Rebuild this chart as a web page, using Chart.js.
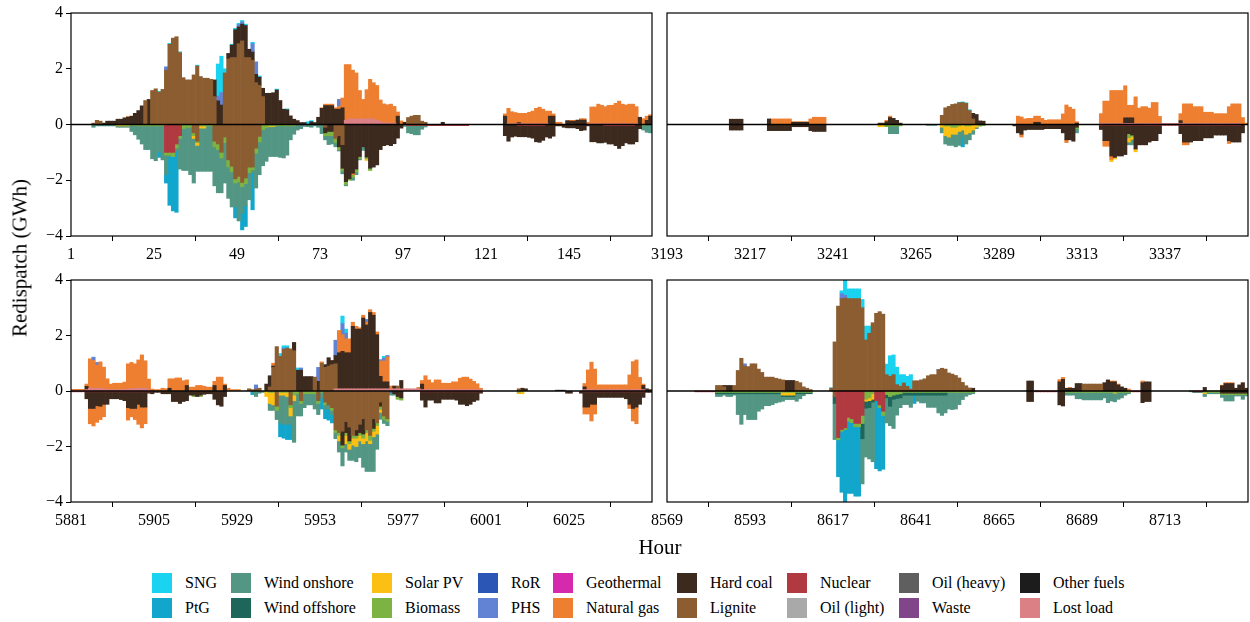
<!DOCTYPE html>
<html>
<head>
<meta charset="utf-8">
<script src="https://cdn.jsdelivr.net/npm/chart.js@4/dist/chart.umd.min.js"></script>
<style>
  body { margin: 0; background: #fff; width: 1250px; height: 622px; overflow: hidden; position: relative;
         font-family: "Liberation Serif", "Times New Roman", serif; color: #000; }
  .panel { position: absolute; }
  .lab { position: absolute; font-size: 21px; white-space: nowrap; }
  .sw { position: absolute; width: 20px; height: 20px; }
  .lt { position: absolute; font-size: 16px; line-height: 20px; white-space: nowrap; }
</style>
</head>
<body>
<div class="panel" style="left:0;top:0"><canvas id="c1" width="660" height="270"></canvas></div>
<div class="panel" style="left:640px;top:0"><canvas id="c2" width="610" height="270"></canvas></div>
<div class="panel" style="left:0;top:267px"><canvas id="c3" width="660" height="270"></canvas></div>
<div class="panel" style="left:640px;top:267px"><canvas id="c4" width="610" height="270"></canvas></div>
<div class="lab" style="left:20px;top:258px;transform:translate(-50%,-50%) rotate(-90deg)">Redispatch (GWh)</div>
<div class="lab" style="left:660px;top:547px;transform:translate(-50%,-50%)">Hour</div>
<div id="legend"></div>
<script>
// ─── SERIES (stacked from the zero line outwards) ───
const SERIES = ['Lost load', 'Other fuels', 'Waste', 'Oil (heavy)', 'Oil (light)', 'Nuclear', 'Lignite',
  'Hard coal', 'Natural gas', 'Geothermal', 'PHS', 'RoR', 'Biomass', 'Solar PV', 'Wind offshore',
  'Wind onshore', 'PtG', 'SNG'];
const LEGEND_COLUMNS = [['SNG', 'PtG'], ['Wind onshore', 'Wind offshore'], ['Solar PV', 'Biomass'],
  ['RoR', 'PHS'], ['Geothermal', 'Natural gas'], ['Hard coal', 'Lignite'], ['Nuclear', 'Oil (light)'],
  ['Oil (heavy)', 'Waste'], ['Other fuels', 'Lost load']];
const COLORS = {
  'SNG': '#19d3f0', 'PtG': '#12a6cc', 'Wind onshore': '#529683', 'Wind offshore': '#1f665a',
  'Solar PV': '#fbc013', 'Biomass': '#7db343', 'RoR': '#2c56b5', 'PHS': '#6283d4',
  'Geothermal': '#d62aae', 'Natural gas': '#ee7f31', 'Hard coal': '#3c2a1e', 'Lignite': '#8b5d31',
  'Nuclear': '#b03a40', 'Oil (light)': '#a9a9a9', 'Oil (heavy)': '#5f5f5f', 'Waste': '#81458a',
  'Other fuels': '#1c1c1c', 'Lost load': '#db8085'
};
const PANEL_START = [1, 3193, 5881, 8569];
const HOURS = 168;
const TICK_STEPS = [0, 24, 48, 72, 96, 120, 144];

// ─── DATA: [firstHourIndex, [values...]] or [firstHourIndex, count, value] (GWh) ───
// Panel 1 (hours 1-168)
const p1LostUp = [[79, [0.15, 0.2, 0.2, 0.2, 0.2, 0.2, 0.2, 0.2, 0.2, 0.15, 0.1, 0.08, 0.05, 0.05, 0.05]], [126, 12, 0.03], [150, 14, 0.03]];
const p1NucDn = [[27, [-1.0, -1.0, -1.0, -0.7, -0.4]], [97, 18, -0.04], [129, 8, -0.04], [154, 9, -0.04]];
const p1LigUp = [[6, [0.05, 0.15, 0.12]], [21, [0.86]],
  [23, [1.22, 1.28, 1.16, 1.26, 1.95, 2.88, 3.1, 3.15, 2.58, 1.68, 1.6, 1.6, 1.78, 2.1, 1.72, 1.66, 1.66, 1.62, 1.0]],
  [44, [1.85, 2.35, 2.4, 2.4, 2.9, 3.0, 2.4, 2.4, 2.3, 1.5, 1.4, 1.0]], [97, [0.25, 0.3, 0.33, 0.33, 0.12, 0.08]]];
const p1LigDn = [[35, [-0.3, -0.6]],
  [41, [-0.6, -0.7, -1.0, -0.45, -1.27, -1.5, -1.95, -1.86, -2.08, -1.92, -1.53, -1.53, -0.85, -0.43]],
  [73, [-0.1, 0, 0, -0.5, -0.4, -0.72]]];
const p1CoalUp = [[9, [0.05, 0.12, 0.12, 0.12, 0.19, 0.19, 0.24, 0.26, 0.3, 0.4, 0.5, 0.67]], [22, [0.9]],
  [41, [0.6, 0.85, 0.7]],
  [45, [0.2, 0.45, 1.0, 0.6, 0.6, 1.15, 0.3, 0.3, 0.3, 0.3, 0.3, 1.12, 1.12, 1.14, 1.24, 0.86, 0.55, 0.53, 0.31, 0.19, 0.14, 0.07, 0.07]],
  [69, [0.1, 0.07, 0.26, 0.58, 0.68, 0.68, 0.68, 0.55, 0.55, 0.6]], [94, [0.3, 0, 0.08]], [107, [0.08]],
  [125, [0.3, 0, 0, 0, 0.04]], [138, [0.3, 0.3]], [143, [0.14, 0.12, 0.12, 0.16, 0.16, 0.16]], [164, [0.26, 0, 0.15, 0.3]]];
const p1CoalDn = [[73, [-0.2, -0.25, -0.25, 0, -0.4, -0.85, -2.05, -1.95, -1.75, -1.6, -1.15, -0.8, -1.17, -1.57, -1.53, -1.45, -0.9, -0.76, -0.73, -0.76, -0.69, -0.49, -0.13]],
  [125, [-0.4, -0.6, -0.45, -0.42, -0.4, -0.4, -0.4, -0.42, -0.45, -0.58, -0.6, -0.53, -0.45, -0.49, -0.42,
    -0.05, -0.05, -0.1, -0.12, -0.12, -0.12, -0.15, -0.22, -0.2, -0.05,
    -0.62, -0.62, -0.66, -0.66, -0.6, -0.66, -0.66, -0.72, -0.82, -0.72, -0.62, -0.66, -0.66, -0.62, -0.15]]];
const p1GasUp = [[16, [0.03]],
  [72, [0.02, 0.05, 0.05, 0.05, 0.05, 0.1, 0.35, 2.0, 1.95, 1.75, 1.65, 1.02, 0.7, 1.05, 1.42, 1.3, 1.25, 0.78, 0.66, 0.66, 0.68, 0.6, 0.15, 0.13]],
  [125, [0.08, 0.55, 0.43, 0.4, 0.33, 0.37, 0.37, 0.41, 0.45, 0.55, 0.59, 0.52, 0.45, 0.18, 0.08, 0.08, 0.08]],
  [144, [0.03, 0.03, 0, 0.05, 0.05, 0.08, 0.6, 0.6, 0.7, 0.66, 0.61, 0.66, 0.66, 0.73, 0.81, 0.7, 0.67, 0.7, 0.7, 0.61, 0, 0.21, 0.15, 0.05]]];
const p1GasDn = [[81, [-0.05]]];
const p1PhsUp = [[27, [0.12]], [42, [0.17, 0.45]], [48, [0.08, 0.08]], [52, [0.3, 0.45]], [77, [0.25]]];
const p1BioDn = [[13, 4, -0.02], [17, [-0.03, -0.04]], [19, 8, -0.05],
  [27, [-0.1, -0.1, -0.15, -0.15, -0.1, -0.15, -0.1, -0.1, -0.1]], [36, 5, -0.05],
  [41, [-0.2, -0.2, -0.2, -0.2, -0.25, -0.2, -0.15, -0.2, -0.15, -0.2, -0.2, -0.1, -0.18, -0.2, -0.18, -0.12]],
  [57, 8, -0.05], [73, [-0.1, -0.15, -0.15, -0.15, -0.1, -0.1, -0.1, -0.05, -0.1, -0.1, -0.07, 0, -0.06, -0.08]], [165, [-0.05]]];
const p1SolDn = [[13, 4, -0.03], [35, [-0.1, -0.1, -0.08, -0.08]], [57, [-0.03, -0.03]], [85, [-0.06]]];
const p1WonDn = [[6, [-0.1]], [7, 10, -0.05],
  [17, [-0.22, -0.33, -0.48, -0.65, -0.85, -0.85, -1.18, -1.25, -0.93, -1.22,
    -0.7, -0.05, 0, -0.1, -1.1, -1.5, -1.55, -1.7, -1.6, -0.93,
    -1.55, -1.55, -1.63, -1.63, -1.4, -1.55, -1.25, -1.45, -1.13, -1.26,
    -0.85, -1.4, -0.95, -0.8, -0.97, -0.1, -1.25, -1.17, -1.3, -1.2,
    -1.07, -1.07, -1.1, -1.13, -1.15, -1.05, -0.5, -0.3, -0.2, -0.15,
    -0.07, -0.08, -0.1, -0.05, -0.1, -0.33, -0.15, -0.32, -0.3, -0.15,
    -0.05, -0.1, -0.05, 0, -0.1, -0.1, -0.05, -0.13]],
  [96, [-0.07, -0.26, -0.29, -0.33, -0.33, -0.13, -0.05]], [165, [-0.15, -0.28, -0.3]]];
const p1PtgDn = [[25, [-0.2, 0, -0.3, -1.75, -1.95, -2.2]], [47, [-0.4, 0, -0.6, -0.74, 0, -1.33]]];
const p1SngUp = [[25, [0.03, 0, 0, 0.03, 0, 0, 0.03, 0, 0, 0, 0, 0.03]],
  [42, [1.15, 1.3, 0.15, 0, 0.03, 0.05, 0.05, 0.05, 0.05, 0, 0.05, 0, 0.04]], [59, [0.03, 0, 0, 0.03]], [68, [0.1, 0.04]]];

// Panel 2 (hours 3193-3360)
const p2LostUp = [[125, 41, 0.04]];
const p2NucDn = [[125, 41, -0.03]];
const p2LigUp = [[79, [0.33, 0.6, 0.65, 0.72, 0.74, 0.78, 0.79, 0.76, 0.5, 0.2]]];
const p2CoalUp = [[18, 4, 0.19], [29, [0.2]], [36, 5, 0.08], [61, [0.05, 0.05, 0.1, 0.25, 0.22, 0.15, 0.05]],
  [88, [0.2, 0.36, 0.13, 0.12]], [106, [0.08, 0.08]], [118, [0.05]], [132, 3, 0.2], [148, [0.1]]];
const p2CoalDn = [[18, 4, -0.2], [29, 7, -0.22], [36, 5, -0.08], [41, [-0.22, -0.25, -0.25, -0.25, -0.25]],
  [100, [-0.05, -0.3, -0.35, -0.2]], [104, 5, -0.18], [109, 5, -0.15], [114, [-0.3, -0.55, -0.55, -0.6, -0.1]],
  [125, [-0.15, -0.55, -0.55, -1.1, -1.15, -1.1, -1.1, -1.05, -0.3, -0.35, -0.85, -0.7, -0.7, -0.7, -0.6, -0.55, -0.55, -0.3]],
  [148, [-0.3, -0.6, -0.6, -0.6, -0.55, -0.55, -0.55, -0.45, -0.45, -0.45, -0.35, -0.35, -0.35, -0.35, -0.55, -0.6, -0.6, -0.6, -0.3]]];
const p2GasUp = [[30, 6, 0.2], [36, 5, 0.02], [41, [0.2, 0.26, 0.26, 0.26, 0.26]], [63, [0.05, 0.05]],
  [101, [0.3, 0.27, 0.2, 0.22, 0.22, 0.22, 0.22, 0.22, 0.15, 0.17, 0.17, 0.17, 0.17, 0.38, 0.7, 0.62, 0.55, 0.05]],
  [125, [0.35, 0.8, 0.8, 1.18, 1.18, 1.18, 1.18, 1.15, 0.45, 0.45, 0.95, 0.55, 0.6, 0.6, 0.55, 0.75, 0.75, 0.25]],
  [148, [0.25, 0.7, 0.7, 0.7, 0.6, 0.6, 0.6, 0.4, 0.4, 0.4, 0.35, 0.35, 0.35, 0.35, 0.6, 0.7, 0.7, 0.7, 0.25, 0.05]]];
const p2GasDn = [[102, [-0.1]], [115, [-0.1]], [126, [-0.2, -0.2, -0.12]], [149, [-0.1, -0.1]], [162, [-0.1]]];
const p2SolDn = [[61, [-0.08, -0.08]], [79, [-0.1, -0.35, -0.4, -0.25, -0.25, -0.2, -0.2, -0.3, -0.25, -0.2, -0.1]],
  [128, [-0.08, -0.06]], [133, [-0.15, -0.1, -0.1]]];
const p2BioDn = [[63, [-0.08, -0.05, -0.05, -0.05, -0.05]], [80, [-0.05, -0.05, -0.1, -0.1, -0.05, 0, -0.05, -0.05, 0, 0, -0.06, -0.04]],
  [118, [-0.05]], [133, [-0.15, -0.05]]];
const p2WonDn = [[64, 3, -0.28], [75, [-0.03, -0.03, -0.03, 0, -0.2, -0.3, -0.3, -0.4, -0.45, -0.5, -0.25, -0.35, -0.25, -0.15, -0.05]],
  [118, [-0.15]], [133, [-0.1, -0.2]]];
const p2PtgDn = [[85, [-0.35]]];
const p2SngUp = [[84, [0.02, 0.02, 0.02, 0.03]]];

// Panel 3 (hours 5881-6048)
const p3LostUp = [[0, [0.03, 0.03, 0.03, 0.03, 0.05, 0.1, 0.1, 0.1, 0.1, 0.08, 0.05, 0.05, 0.05, 0.05, 0.05, 0.05, 0.08, 0.08, 0.1, 0.1, 0.1, 0.1, 0.05]],
  [76, 25, 0.08], [101, 18, 0.05], [148, 18, 0.05]];
const p3NucDn = [[0, 23, -0.03], [101, 18, -0.03], [148, 18, -0.03]];
const p3LigUp = [[51, [0.08, 0.05, 0.07, 0.1]],
  [57, [0.15, 0.85, 1.6, 1.25, 1.5, 1.55, 1.52, 1.45, 0, 0, 0, 0, 0, 0.5, 0, 1.0, 0.85, 0.9, 0.95, 0.9]], [94, [0.1]], [129, [0.08]]];
const p3LigDn = [[59, [-0.55]], [63, [-0.5]], [66, [-0.35]],
  [71, [-0.35, 0, -0.4, -0.5, -0.6, -1.4, -1.5, -1.45, -1.1, -1.3, -1.6, -1.4, -1.2, -1.0, -1.4, -1.6, -1.0, -1.15, -0.4, -0.9, -1.0]]];
const p3CoalUp = [[4, [0.12]], [28, [0.1]], [33, [0.2]], [41, [0.2]], [44, [0.2]], [56, [0.25, 0.4, 0.05]],
  [64, [0.3, 0.75, 0.75, 0.52, 0.52, 0.52, 0, 0.35, 0, 0.1, 0.3, 0.15, 0.3, 1.3, 1.35, 1.3, 1.3, 2.25, 2.15, 2.15, 2.55, 2.3, 2.75, 2.65, 1.95, 0.45, 0.25, 0.25, 0, 0.1, 0, 0.3]],
  [101, [0.2]], [130, [0.1, 0.08]], [140, 3, 0.03], [148, [0.1]], [165, [0.15, 0.08, 0.05]]];
const p3CoalDn = [[4, [-0.25, -0.6, -0.6, -0.5, -0.52, -0.45, -0.45, -0.25, -0.25, -0.25, -0.28, -0.32,
    -0.57, -0.6, -0.6, -0.45, -0.55, -0.55, -0.05, -0.1, -0.05, -0.05, -0.1, -0.1, -0.1,
    -0.38, -0.38, -0.45, -0.38, -0.35, -0.15, -0.15, -0.2, -0.15, -0.12, -0.1, -0.1, -0.3, -0.5, -0.55, -0.2]],
  [78, [-0.5, -0.4, -0.5, 0, -0.2, -0.3, -0.55, 0, 0, -0.35, 0, -0.15, 0, 0, 0, -0.1, -0.2, -0.25]],
  [101, [-0.3, -0.55, -0.3, -0.3, -0.4, -0.4, -0.27, -0.27, -0.27, -0.27, -0.3, -0.45, -0.45, -0.5, -0.45, -0.35, -0.3, -0.05]],
  [143, [-0.08, -0.08, 0, 0, -0.08, -0.55, -0.55, -0.45, -0.45]], [152, 8, -0.2],
  [160, [-0.25, -0.45, -0.6, -0.55, -0.45, -0.2, -0.05, -0.05]]];
const p3GasUp = [[0, [0.03, 0.03, 0.03, 0.03, 0.08, 1.06, 1.0, 0.83, 0.95, 0.78, 0.39, 0.2, 0.23, 0.23, 0.23, 0.27,
    0.9, 0.95, 0.88, 1.02, 1.2, 0.99, 0.38, 0.07, 0.05, 0.05, 0.1, 0.08,
    0.34, 0.44, 0.47, 0.47, 0.37, 0.2, 0.14, 0.14, 0.2, 0.2, 0.17, 0.14, 0.14,
    0.15, 0.5, 0.5, 0.05, 0.1, 0.05, 0.05, 0.05]],
  [58, [0.1]], [72, [0.05]], [77, [0.8, 0.6, 0.5, 0.5, 0.15, 0.1, 0.05, 0.1, 0.1, 0.1, 0.1, 0.1, 0.55, 0.75, 0.9, 0.1]],
  [100, [0.05, 0.13, 0.5, 0.35, 0.25, 0.35, 0.35, 0.23, 0.23, 0.23, 0.28, 0.28, 0.41, 0.45, 0.45, 0.38, 0.3, 0.21, 0.05]],
  [148, [0.12, 0.71, 0.99, 0.74, 0.17, 0.17, 0.17, 0.17, 0.17, 0.17, 0.17, 0.17, 0.17, 0.53, 1.01, 1.07, 0.44, 0.05]]];
const p3GasDn = [[5, [-0.55, -0.63, -0.6, -0.48, -0.45]], [16, [-0.45, -0.3, -0.4, -0.72, -0.75, -0.6]],
  [148, [-0.25, -0.25, -0.6, -0.35]], [161, [-0.15, -0.45, -0.6]]];
const p3PhsUp = [[6, [0.12, 0.1]], [53, [0.15]], [61, [0.05]], [66, [0.08]], [71, [0.5]], [76, [0.55, 0, 0.4, 0.2]],
  [85, [0.1]], [89, [0.05, 0.1, 0.05]]];
const p3RorDn = [[92, [-0.05]]];
const p3BioDn = [[35, [-0.05, 0, -0.05]],
  [56, [0, -0.05, -0.05, -0.15, -0.05, -0.05, -0.05, -0.1, -0.15, -0.1, -0.1, -0.1, -0.1, -0.1, -0.1, -0.1, -0.05, -0.1, 0, -0.1,
    -0.1, -0.1, -0.1, -0.1, -0.1, -0.1, -0.1, -0.1, -0.15, -0.1, -0.18, -0.1, -0.1, -0.12, -0.12, -0.1, 0, 0, -0.1, -0.08]],
  [129, [-0.05]]];
const p3SolDn = [[56, [-0.2, -0.4, -0.45, 0, -0.1, -0.1, -0.15, -0.3, -0.2]],
  [77, [-0.2, 0, -0.3, -0.2, -0.25, -0.3, -0.2, -0.2, -0.3, -0.12, -0.2, -0.3, -0.1]], [129, [-0.05, -0.1]]];
const p3WonDn = [[52, [-0.05, -0.2, -0.08, -0.05, 0, -0.25, -0.2, -0.33, -1.0, -1.05, -1.0, -0.3, -1.5,
  -0.8, -0.45, -0.5, -0.4, -0.4, -0.55, -0.4, -0.2, -0.15, -0.15, -0.15, -0.22,
  -0.4, -0.65, -0.3, -0.4, -0.55, -0.55, -0.6, -0.85, -1.1, -1.0, -1.25, -0.55, -0.25, -0.15, -0.15, -0.1, -0.05]]];
const p3PtgDn = [[52, [-0.08]], [60, [-0.5, -0.5, -0.55, -0.55]], [72, [-0.4, -0.35, -0.4, -0.3]]];
const p3SngUp = [[60, [0.1, 0.08, 0.08]], [65, [0.08]], [78, [0.27, 0.15]], [90, [0.07]]];

// Panel 4 (hours 8569-8736)
const p4NucDn = [[8, 6, -0.03], [49, [-1.68, -1.39, -1.33, -0.95, -1.0, -1.17, -1.17, -0.88]], [60, [-0.35, -0.5, -0.73]],
  [106, 7, -0.03], [134, 3, -0.03], [152, 3, -0.03]];
const p4LigUp = [[14, [0.2, 0.2, 0.15, 0, 0, 0.2, 0.74, 1.18, 0.9, 0.88, 0.98, 0.98, 0.79, 0.67, 0.5, 0.5, 0.5, 0.46, 0.43, 0.4,
    0, 0, 0, 0.35, 0.3, 0.15, 0.1, 0.05]],
  [47, [0.1, 1.77, 3.06, 3.33, 3.35, 3.33, 3.33, 3.33, 3.33, 3.0, 1.84, 2.08, 2.46, 2.8, 2.86, 2.77,
    0.59, 0.53, 0.59, 0.23, 0.17, 0.29, 0.17, 0.07,
    0.37, 0.37, 0.4, 0.44, 0.55, 0.59, 0.59, 0.76, 0.82, 0.79, 0.65, 0.61, 0.56, 0.47, 0.31, 0.19, 0.11]],
  [120, 6, 0.25]];
const p4LigDn = [[48, [-0.2]]];
const p4CoalUp = [[16, [0.05, 0.2, 0.2]], [34, 3, 0.38], [88, [0.1]], [104, 2, 0.36],
  [113, [0.33, 0.42, 0.1, 0.1, 0.1, 0.27, 0.27]], [126, [0.3, 0.4, 0.33, 0.33, 0.22, 0.15, 0.1]],
  [137, [0.3, 0.33, 0.33]], [155, [0.13]], [160, [0.19, 0.27, 0.27, 0.27, 0.1, 0.22, 0.3, 0.1]]];
const p4CoalDn = [[104, 2, -0.38], [113, [-0.5, -0.54]], [137, [-0.42, -0.38, -0.38]], [160, 8, -0.08]];
const p4GasUp = [[113, [0.08, 0.07, 0, 0.03]], [128, [0.03, 0.03, 0.03, 0, 0, 0.07]], [137, [0.06]], [160, [0.02, 0.03, 0.03, 0.03]]];
const p4PhsUp = [[22, [0.08]], [50, [0.18, 0.1]], [78, [0.02]]];
const p4BioDn = [[14, 28, -0.05],
  [49, [-0.08, -0.06, -0.06, -0.14, -0.14, -0.12, -0.12, -0.29, -0.3, -0.25, -0.1, 0, -0.1, -0.15, -0.13, -0.2, -0.15, -0.12, -0.1]],
  [68, 21, -0.05], [115, 19, -0.05], [155, 13, -0.05]];
const p4SolDn = [[33, 4, -0.1], [57, [-0.07, -0.1, -0.2]], [129, [-0.03]], [155, [-0.05]]];
const p4WoffDn = [[14, 28, -0.05], [48, [-0.25]], [56, [-0.55, -0.25, -0.25, -0.1]], [63, [-0.12, -0.35, -0.15, -0.15, -0.15]], [68, 13, -0.1]];
const p4WonDn = [[14, [-0.1, -0.1, -0.05, -0.1, -0.1, -0.05, -0.75, -1.1, -0.75, -0.93, -0.93, -0.93, -0.63, -0.55, -0.43, -0.43,
    -0.39, -0.33, -0.3, -0.17, -0.11, -0.11, -0.11, -0.27, -0.18, -0.07]],
  [48, [-1.3]], [56, [-1.63, -1.76, -1.85, -2.15]],
  [63, [-0.9, -0.7, -1.05, -0.6, -0.35, -0.34, -0.34, -0.44, 0, -0.22, -0.28, -0.28, -0.44, -0.44, -0.44,
    -0.64, -0.73, -0.64, -0.6, -0.62, -0.6, -0.44, -0.26, -0.14, -0.08, -0.05]],
  [115, [-0.1, -0.1, -0.1, -0.23, -0.23, -0.27, -0.27, -0.27, -0.27, -0.27, -0.27, -0.2, -0.37, -0.31, -0.31, -0.25, -0.2, -0.1, -0.05]],
  [151, [-0.03, -0.03, -0.03, -0.03, -0.1, -0.05, -0.05, -0.05, -0.05, -0.1, -0.23, -0.23, -0.23, -0.05, -0.05, -0.17, -0.05]]];
const p4PtgDn = [[49, [-1.33, -2.2, -2.65, -2.6, -2.55, -2.5, -2.5]], [60, [-2.45, -2.28, -1.94]], [71, [-0.3]]];
const p4SngUp = [[47, [0.02, 0, 0, 0.1, 0.55, 0.35, 0.35, 0.35, 0.35, 0.3, 0.5, 0.26, 0, 0, 0, 0, 0.38, 0.74, 0.71, 0.63, 0.42, 0.3, 0.36, 0.52]]];

// ─── PER-PANEL LOOKUP: series -> [up segments, down segments] ───
const PANEL_DATA = [
  { 'Lost load': [p1LostUp], 'Nuclear': [null, p1NucDn], 'Lignite': [p1LigUp, p1LigDn], 'Hard coal': [p1CoalUp, p1CoalDn],
    'Natural gas': [p1GasUp, p1GasDn], 'PHS': [p1PhsUp], 'Biomass': [null, p1BioDn], 'Solar PV': [null, p1SolDn],
    'Wind onshore': [null, p1WonDn], 'PtG': [null, p1PtgDn], 'SNG': [p1SngUp] },
  { 'Lost load': [p2LostUp], 'Nuclear': [null, p2NucDn], 'Lignite': [p2LigUp], 'Hard coal': [p2CoalUp, p2CoalDn],
    'Natural gas': [p2GasUp, p2GasDn], 'Biomass': [null, p2BioDn], 'Solar PV': [null, p2SolDn],
    'Wind onshore': [null, p2WonDn], 'PtG': [null, p2PtgDn], 'SNG': [p2SngUp] },
  { 'Lost load': [p3LostUp], 'Nuclear': [null, p3NucDn], 'Lignite': [p3LigUp, p3LigDn], 'Hard coal': [p3CoalUp, p3CoalDn],
    'Natural gas': [p3GasUp, p3GasDn], 'PHS': [p3PhsUp], 'RoR': [null, p3RorDn], 'Biomass': [null, p3BioDn],
    'Solar PV': [null, p3SolDn], 'Wind onshore': [null, p3WonDn], 'PtG': [null, p3PtgDn], 'SNG': [p3SngUp] },
  { 'Nuclear': [null, p4NucDn], 'Lignite': [p4LigUp, p4LigDn], 'Hard coal': [p4CoalUp, p4CoalDn],
    'Natural gas': [p4GasUp], 'PHS': [p4PhsUp], 'Biomass': [null, p4BioDn], 'Solar PV': [null, p4SolDn],
    'Wind offshore': [null, p4WoffDn], 'Wind onshore': [null, p4WonDn], 'PtG': [null, p4PtgDn], 'SNG': [p4SngUp] }
];

// expand segment lists into one value per hour (null where nothing is dispatched)
function expand(segs) {
  const out = new Array(HOURS).fill(null);
  (segs || []).forEach(s => {
    if (Array.isArray(s[1])) {
      s[1].forEach((v, k) => { if (s[0] + k < HOURS) out[s[0] + k] = v || null; });
    } else {
      for (let k = 0; k < s[1] && s[0] + k < HOURS; k++) out[s[0] + k] = s[2];
    }
  });
  return out;
}

// ─── PLUGIN: zero line on top of bars + full frame ───
const framePlugin = {
  id: 'frame',
  afterDatasetsDraw(chart) {
    const { ctx, chartArea: a, scales } = chart;
    const y0 = scales.y.getPixelForValue(0);
    ctx.save();
    ctx.strokeStyle = '#000';
    ctx.lineWidth = 1.6;
    ctx.beginPath();
    ctx.moveTo(a.left, y0);
    ctx.lineTo(a.right, y0);
    ctx.stroke();
    ctx.lineWidth = 1.2;
    ctx.strokeRect(a.left, a.top, a.right - a.left, a.bottom - a.top);
    ctx.restore();
  }
};

const TICK_FONT = { family: '"Liberation Serif", "Times New Roman", serif', size: 16 };

function buildPanel(canvasId, p, leftPanel) {
  const start = PANEL_START[p];
  const labels = [];
  for (let i = 0; i < HOURS; i++) labels.push(start + i + 0.5);
  const datasets = [];
  SERIES.forEach(name => {
    const pair = PANEL_DATA[p][name];
    if (!pair) return;
    pair.forEach(segs => {
      if (!segs) return;
      datasets.push({
        label: name,
        data: expand(segs),
        backgroundColor: COLORS[name],
        borderWidth: 0,
        barPercentage: 1.0,
        categoryPercentage: 1.0
      });
    });
  });

  new Chart(document.getElementById(canvasId), {
    type: 'bar',
    data: { labels: labels, datasets: datasets },
    options: {
      responsive: false,
      animation: false,
      layout: { padding: { top: 13, right: leftPanel ? 8 : 2, left: 0, bottom: 0 } },
      plugins: { legend: { display: false }, tooltip: { enabled: false } },
      scales: {
        x: {
          type: 'linear', min: start, max: start + HOURS, stacked: true, offset: false,
          afterBuildTicks: s => { s.ticks = TICK_STEPS.map(d => ({ value: start + d })); },
          afterFit: s => { s.height = p < 2 ? 34 : 35; },
          ticks: { font: TICK_FONT, color: '#000', padding: 4, maxRotation: 0, autoSkip: false, callback: v => String(v) },
          grid: { drawOnChartArea: false, drawTicks: true, tickLength: 5, color: '#000', tickColor: '#000' },
          border: { display: false }
        },
        y: {
          min: -4, max: 4, stacked: true,
          afterFit: s => { s.width = leftPanel ? 71 : 27; },
          ticks: {
            display: leftPanel, stepSize: 2, font: TICK_FONT, color: '#000', padding: 3,
            callback: v => (v < 0 ? '\u2212' + Math.abs(v) : String(v))
          },
          grid: { display: leftPanel, drawOnChartArea: false, drawTicks: true, tickLength: 5, color: '#000', tickColor: '#000' },
          border: { display: false }
        }
      }
    },
    plugins: [framePlugin]
  });
}

buildPanel('c1', 0, true);
buildPanel('c2', 1, false);
buildPanel('c3', 2, true);
buildPanel('c4', 3, false);

// ─── LEGEND (two rows, nine columns) ───
const LEGEND_X = [152, 231, 372, 478, 553, 677, 787, 899, 1020];
const LEGEND_Y = [573, 598];
const legend = document.getElementById('legend');
LEGEND_COLUMNS.forEach((col, c) => {
  col.forEach((name, r) => {
    const sw = document.createElement('div');
    sw.className = 'sw';
    sw.style.left = LEGEND_X[c] + 'px';
    sw.style.top = LEGEND_Y[r] + 'px';
    sw.style.background = COLORS[name];
    legend.appendChild(sw);
    const t = document.createElement('div');
    t.className = 'lt';
    t.style.left = (LEGEND_X[c] + 33) + 'px';
    t.style.top = LEGEND_Y[r] + 'px';
    t.textContent = name;
    legend.appendChild(t);
  });
});
</script>
</body>
</html>
